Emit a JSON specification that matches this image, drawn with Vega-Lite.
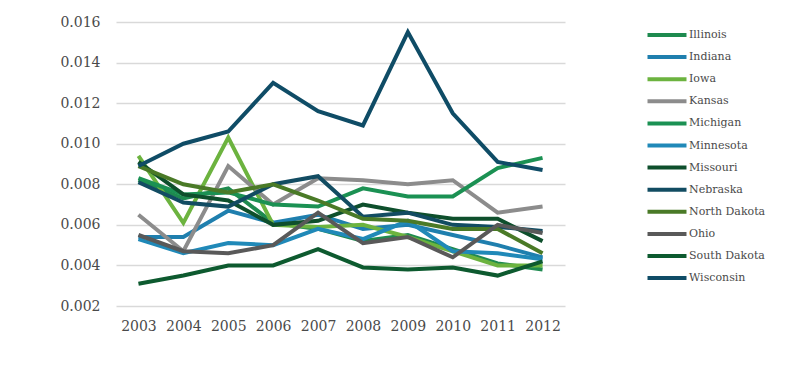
{
  "$schema": "https://vega.github.io/schema/vega-lite/v6.json",
  "autosize": {"type": "none"},
  "padding": {"left": 116, "top": 22, "right": 235, "bottom": 65},
  "width": 449,
  "height": 284,
  "background": "white",
  "data": {"values": [
    {"state":"Illinois","year":"2003","v":0.0082},{"state":"Illinois","year":"2004","v":0.0073},{"state":"Illinois","year":"2005","v":0.0078},{"state":"Illinois","year":"2006","v":0.0061},{"state":"Illinois","year":"2007","v":0.0058},{"state":"Illinois","year":"2008","v":0.0052},{"state":"Illinois","year":"2009","v":0.0055},{"state":"Illinois","year":"2010","v":0.0048},{"state":"Illinois","year":"2011","v":0.0041},{"state":"Illinois","year":"2012","v":0.0038},
    {"state":"Indiana","year":"2003","v":0.0054},{"state":"Indiana","year":"2004","v":0.0054},{"state":"Indiana","year":"2005","v":0.0067},{"state":"Indiana","year":"2006","v":0.0061},{"state":"Indiana","year":"2007","v":0.0065},{"state":"Indiana","year":"2008","v":0.0058},{"state":"Indiana","year":"2009","v":0.0060},{"state":"Indiana","year":"2010","v":0.0055},{"state":"Indiana","year":"2011","v":0.0050},{"state":"Indiana","year":"2012","v":0.0044},
    {"state":"Iowa","year":"2003","v":0.0094},{"state":"Iowa","year":"2004","v":0.0061},{"state":"Iowa","year":"2005","v":0.0103},{"state":"Iowa","year":"2006","v":0.0060},{"state":"Iowa","year":"2007","v":0.0059},{"state":"Iowa","year":"2008","v":0.0060},{"state":"Iowa","year":"2009","v":0.0054},{"state":"Iowa","year":"2010","v":0.0047},{"state":"Iowa","year":"2011","v":0.0040},{"state":"Iowa","year":"2012","v":0.0040},
    {"state":"Kansas","year":"2003","v":0.0065},{"state":"Kansas","year":"2004","v":0.0047},{"state":"Kansas","year":"2005","v":0.0089},{"state":"Kansas","year":"2006","v":0.0070},{"state":"Kansas","year":"2007","v":0.0083},{"state":"Kansas","year":"2008","v":0.0082},{"state":"Kansas","year":"2009","v":0.0080},{"state":"Kansas","year":"2010","v":0.0082},{"state":"Kansas","year":"2011","v":0.0066},{"state":"Kansas","year":"2012","v":0.0069},
    {"state":"Michigan","year":"2003","v":0.0083},{"state":"Michigan","year":"2004","v":0.0075},{"state":"Michigan","year":"2005","v":0.0076},{"state":"Michigan","year":"2006","v":0.0070},{"state":"Michigan","year":"2007","v":0.0069},{"state":"Michigan","year":"2008","v":0.0078},{"state":"Michigan","year":"2009","v":0.0074},{"state":"Michigan","year":"2010","v":0.0074},{"state":"Michigan","year":"2011","v":0.0088},{"state":"Michigan","year":"2012","v":0.0093},
    {"state":"Minnesota","year":"2003","v":0.0053},{"state":"Minnesota","year":"2004","v":0.0046},{"state":"Minnesota","year":"2005","v":0.0051},{"state":"Minnesota","year":"2006","v":0.0050},{"state":"Minnesota","year":"2007","v":0.0058},{"state":"Minnesota","year":"2008","v":0.0053},{"state":"Minnesota","year":"2009","v":0.0062},{"state":"Minnesota","year":"2010","v":0.0047},{"state":"Minnesota","year":"2011","v":0.0046},{"state":"Minnesota","year":"2012","v":0.0043},
    {"state":"Missouri","year":"2003","v":0.0091},{"state":"Missouri","year":"2004","v":0.0075},{"state":"Missouri","year":"2005","v":0.0072},{"state":"Missouri","year":"2006","v":0.0060},{"state":"Missouri","year":"2007","v":0.0062},{"state":"Missouri","year":"2008","v":0.0070},{"state":"Missouri","year":"2009","v":0.0066},{"state":"Missouri","year":"2010","v":0.0063},{"state":"Missouri","year":"2011","v":0.0063},{"state":"Missouri","year":"2012","v":0.0052},
    {"state":"Nebraska","year":"2003","v":0.0081},{"state":"Nebraska","year":"2004","v":0.0071},{"state":"Nebraska","year":"2005","v":0.0069},{"state":"Nebraska","year":"2006","v":0.0080},{"state":"Nebraska","year":"2007","v":0.0084},{"state":"Nebraska","year":"2008","v":0.0064},{"state":"Nebraska","year":"2009","v":0.0066},{"state":"Nebraska","year":"2010","v":0.0060},{"state":"Nebraska","year":"2011","v":0.0059},{"state":"Nebraska","year":"2012","v":0.0057},
    {"state":"North Dakota","year":"2003","v":0.0089},{"state":"North Dakota","year":"2004","v":0.0080},{"state":"North Dakota","year":"2005","v":0.0076},{"state":"North Dakota","year":"2006","v":0.0080},{"state":"North Dakota","year":"2007","v":0.0072},{"state":"North Dakota","year":"2008","v":0.0063},{"state":"North Dakota","year":"2009","v":0.0062},{"state":"North Dakota","year":"2010","v":0.0058},{"state":"North Dakota","year":"2011","v":0.0058},{"state":"North Dakota","year":"2012","v":0.0046},
    {"state":"Ohio","year":"2003","v":0.0055},{"state":"Ohio","year":"2004","v":0.0047},{"state":"Ohio","year":"2005","v":0.0046},{"state":"Ohio","year":"2006","v":0.0050},{"state":"Ohio","year":"2007","v":0.0066},{"state":"Ohio","year":"2008","v":0.0051},{"state":"Ohio","year":"2009","v":0.0054},{"state":"Ohio","year":"2010","v":0.0044},{"state":"Ohio","year":"2011","v":0.0060},{"state":"Ohio","year":"2012","v":0.0056},
    {"state":"South Dakota","year":"2003","v":0.0031},{"state":"South Dakota","year":"2004","v":0.0035},{"state":"South Dakota","year":"2005","v":0.0040},{"state":"South Dakota","year":"2006","v":0.0040},{"state":"South Dakota","year":"2007","v":0.0048},{"state":"South Dakota","year":"2008","v":0.0039},{"state":"South Dakota","year":"2009","v":0.0038},{"state":"South Dakota","year":"2010","v":0.0039},{"state":"South Dakota","year":"2011","v":0.0035},{"state":"South Dakota","year":"2012","v":0.0042},
    {"state":"Wisconsin","year":"2003","v":0.0089},{"state":"Wisconsin","year":"2004","v":0.0100},{"state":"Wisconsin","year":"2005","v":0.0106},{"state":"Wisconsin","year":"2006","v":0.0130},{"state":"Wisconsin","year":"2007","v":0.0116},{"state":"Wisconsin","year":"2008","v":0.0109},{"state":"Wisconsin","year":"2009","v":0.0155},{"state":"Wisconsin","year":"2010","v":0.0115},{"state":"Wisconsin","year":"2011","v":0.0091},{"state":"Wisconsin","year":"2012","v":0.0087}
  ]},
  "mark": {"type": "line", "strokeWidth": 4, "strokeJoin": "miter", "strokeCap": "butt"},
  "encoding": {
    "x": {"field": "year", "type": "ordinal", "scale": {"type": "point", "padding": 0.5},
      "axis": {"title": null, "labelAngle": 0, "domain": false, "ticks": false, "labelPadding": 13, "labelFont": "DejaVu Serif", "labelFontSize": 14, "labelColor": "#4a4a4a"}},
    "y": {"field": "v", "type": "quantitative", "scale": {"domain": [0.002, 0.016], "nice": false, "zero": false},
      "axis": {"title": null, "values": [0.002,0.004,0.006,0.008,0.010,0.012,0.014,0.016], "format": ".3f", "domain": false, "ticks": false, "labelPadding": 16, "labelFont": "DejaVu Serif", "labelFontSize": 14, "labelColor": "#4a4a4a", "gridColor": "#d9d9d9", "gridWidth": 1.5}},
    "color": {"field": "state", "type": "nominal",
      "scale": {"domain": ["Illinois","Indiana","Iowa","Kansas","Michigan","Minnesota","Missouri","Nebraska","North Dakota","Ohio","South Dakota","Wisconsin"],
        "range": ["#1e8a4f","#1f7fae","#6cb33f","#8c8c8c","#1b9153","#2089b8","#0e4f2c","#124c62","#4a7a27","#595959","#0d5a2f","#0f4c66"]},
      "legend": {"title": null, "orient": "none", "legendX": 539, "legendY": 1, "symbolType": "M-2,0H2", "symbolSize": 380, "symbolStrokeWidth": 4, "labelFont": "DejaVu Serif", "labelFontSize": 11, "labelColor": "#4a4a4a", "labelOffset": 10, "rowPadding": 2.1}}
  },
  "config": {"view": {"stroke": null}}
}
